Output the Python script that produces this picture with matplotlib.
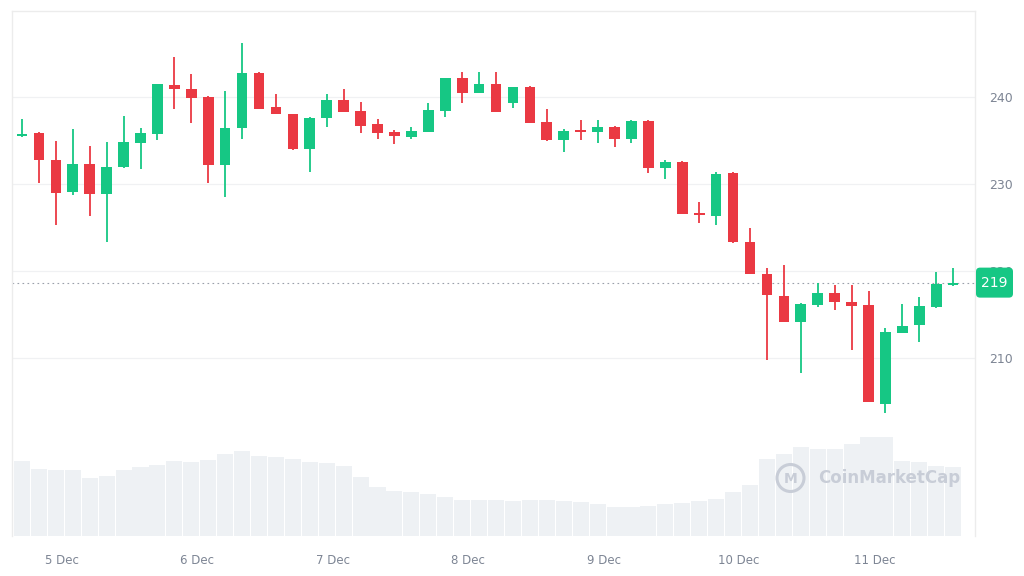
import numpy as np
import matplotlib
matplotlib.use("Agg")
import matplotlib.pyplot as plt
from matplotlib.patches import Rectangle, Circle, FancyBboxPatch

# 3-hour candles, 5 Dec - 11 Dec
opens = [235.5, 235.9, 232.8, 229.05, 232.25, 228.85, 231.9, 234.75, 235.75, 241.35,
         240.95, 240.0, 232.2, 236.4, 242.8, 238.9, 238.05, 234.0, 237.6, 239.65,
         238.4, 236.85, 235.95, 235.45, 236.0, 238.45, 242.15, 240.5, 241.45, 239.35,
         241.1, 237.1, 235.05, 236.15, 235.95, 236.55, 235.15, 237.3, 231.8, 232.55,
         226.7, 226.35, 231.3, 223.35, 219.65, 217.15, 214.15, 216.05, 217.5, 216.45,
         216.05, 204.65, 212.9, 213.75, 215.8, 218.35]
highs = [237.5, 236.0, 235.0, 236.3, 234.4, 234.85, 237.8, 236.4, 241.5, 244.6,
         242.6, 240.1, 240.7, 246.2, 242.85, 240.4, 238.1, 237.65, 240.4, 240.95,
         239.45, 237.45, 236.2, 236.5, 239.35, 242.2, 242.9, 242.85, 242.9, 241.2,
         241.25, 238.6, 236.3, 237.35, 237.35, 236.65, 237.4, 237.35, 232.75, 232.6,
         227.9, 231.35, 231.35, 224.9, 220.3, 220.7, 216.35, 218.65, 218.35, 218.35,
         217.7, 213.4, 216.2, 216.95, 219.85, 220.3]
lows = [235.4, 230.1, 225.3, 228.7, 226.35, 223.35, 231.85, 231.7, 235.05, 238.65,
        237.05, 230.15, 228.55, 235.15, 238.6, 238.0, 233.95, 231.35, 236.6, 238.25,
        235.9, 235.15, 234.55, 235.15, 235.95, 237.65, 239.35, 240.45, 238.25, 238.7,
        237.0, 235.0, 233.7, 235.05, 234.75, 234.2, 234.75, 231.25, 230.55, 226.55,
        225.5, 225.3, 223.25, 219.6, 209.75, 214.1, 208.2, 215.8, 215.55, 210.9,
        204.9, 203.6, 212.85, 211.85, 215.75, 218.3]
closes = [235.8, 232.75, 229.0, 232.25, 228.9, 232.0, 234.85, 235.9, 241.45, 240.9,
          239.9, 232.2, 236.4, 242.8, 238.65, 238.05, 234.0, 237.6, 239.65, 238.3,
          236.7, 235.9, 235.5, 236.1, 238.5, 242.15, 240.5, 241.45, 238.3, 241.1,
          237.05, 235.05, 236.15, 236.0, 236.5, 235.15, 237.3, 231.8, 232.55, 226.6,
          226.4, 231.2, 223.3, 219.65, 217.2, 214.15, 216.2, 217.5, 216.45, 216.0,
          204.95, 213.0, 213.7, 215.95, 218.5, 218.65]
# relative volume
volume = [75.3, 66.7, 65.7, 66.3, 57.7, 60.0, 66.3, 68.7, 71.0, 75.3,
          74.3, 76.0, 82.0, 85.3, 80.3, 79.3, 77.0, 73.7, 73.3, 70.0,
          59.3, 48.7, 45.3, 44.3, 41.7, 39.3, 36.0, 36.0, 36.0, 35.3,
          36.0, 36.0, 35.3, 34.3, 32.0, 29.3, 28.7, 30.0, 31.7, 33.3,
          35.0, 36.7, 43.7, 51.0, 76.7, 82.0, 88.7, 87.0, 87.0, 92.0,
          99.3, 99.3, 75.3, 73.7, 70.0, 68.7]
day_labels = ["5 Dec", "6 Dec", "7 Dec", "8 Dec", "9 Dec", "10 Dec", "11 Dec"]
day_pos = [2.35 + 8 * k for k in range(len(day_labels))]
price_ticks = [210, 220, 230, 240]
last_price = 219

GREEN = "#16c784"
RED = "#ea3943"
GRAY = "#7d8594"
WM = "#c8cdd7"

fig = plt.figure(figsize=(10.24, 5.76), dpi=100)
W, H = 1024, 576
left, right, top, bottom = 12, 975, 11, 536
rect = [left / W, 1 - bottom / H, (right - left) / W, (bottom - top) / H]

vax = fig.add_axes(rect)
ax = fig.add_axes(rect)
ax.patch.set_alpha(0)

n = len(opens)
x = np.arange(n)
xlim = (-0.59, 56.29)

# volume
vax.bar(x, volume, width=0.95, color="#eef1f4", linewidth=0)
vax.set_xlim(*xlim)
vax.set_ylim(0, max(volume) * 5.29)
vax.axis("off")

# watermark
fig.patches.append(Circle((7.905, (H - 478) / 100), 0.135, transform=fig.dpi_scale_trans,
                          fill=False, ec=WM, lw=2.2, zorder=5))
fig.text(7.905 / 10.24, 1 - 479 / H, "M", fontsize=10, fontweight="bold",
         color=WM, va="center", ha="center")
fig.text(818 / W, 1 - 478 / H, "CoinMarketCap", fontsize=12, fontweight="bold",
         color=WM, va="center", ha="left")

# candles
bw = 0.63
for i in range(n):
    c = GREEN if closes[i] >= opens[i] else RED
    ax.vlines(x[i], lows[i], highs[i], color=c, lw=1.3, zorder=3)
    lo = min(opens[i], closes[i])
    h = max(abs(closes[i] - opens[i]), 0.25)
    ax.add_patch(Rectangle((x[i] - bw / 2, lo), bw, h, color=c, zorder=4, lw=0))

ax.set_xlim(*xlim)
ax.set_ylim(189.5, 249.9)

for p in price_ticks:
    ax.axhline(p, color="#f0f1f3", lw=0.9, zorder=1)
ax.axhline(closes[-1], color="#9aa0aa", lw=0.8, ls=(0, (1.5, 3)), zorder=2)

ax.yaxis.tick_right()
ax.set_yticks(price_ticks)
ax.set_yticklabels([str(p) for p in price_ticks])
ax.tick_params(axis="y", length=0, pad=10, labelsize=9, labelcolor=GRAY)
ax.set_xticks(day_pos)
ax.set_xticklabels(day_labels)
ax.tick_params(axis="x", length=0, pad=13, labelsize=8.5, labelcolor=GRAY)

for s in ["top", "left", "right"]:
    ax.spines[s].set_color("#ececec")
    ax.spines[s].set_linewidth(1.0)
ax.spines["bottom"].set_visible(False)

# last price tag, drawn in figure pixels over the axis labels
y_tag = ax.transData.transform((0, closes[-1]))[1] / 100
fig.patches.append(FancyBboxPatch((9.76, y_tag - 0.15), 0.37, 0.30,
                                  boxstyle="round,pad=0,rounding_size=0.04",
                                  transform=fig.dpi_scale_trans, fc=GREEN, ec="none",
                                  zorder=10))
fig.text(9.945 / 10.24, y_tag / 5.76, str(last_price), fontsize=10, color="white",
         ha="center", va="center", zorder=11)

fig.savefig("out.png", dpi=100, facecolor="white")
